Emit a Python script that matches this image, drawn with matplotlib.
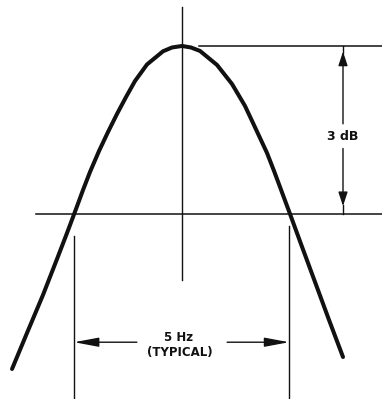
# Courbe de réponse d'un filtre : bande passante à -3 dB
import matplotlib
matplotlib.use('Agg')
import matplotlib.pyplot as plt

plt.rcParams['font.family'] = ['DejaVu Sans']

# Données (écart de fréquence en Hz, niveau en dB)
freq_hz = [-3.953, -3.605, -3.233, -2.907, -2.674, -2.465, -2.302, -2.140, -1.930,
           -1.721, -1.512, -1.302, -1.093, -0.814, -0.442, -0.233, 0.000, 0.209,
           0.419, 0.814, 1.163, 1.465, 1.651, 1.814, 1.977, 2.140, 2.279, 2.512,
           2.767, 3.093, 3.419, 3.744]
niveau_db = [-5.768, -5.125, -4.446, -3.804, -3.339, -2.911, -2.571, -2.250, -1.875,
             -1.536, -1.214, -0.911, -0.625, -0.330, -0.095, -0.027, 0.000, -0.027,
             -0.089, -0.339, -0.679, -1.071, -1.375, -1.643, -1.911, -2.232, -2.518,
             -3.000, -3.536, -4.214, -4.893, -5.554]

pic_db = 0.0           # niveau du sommet
coupure_db = -3.0      # niveau de coupure
bande = [-2.51, 2.49]  # bords de la bande passante (5 Hz)
texte_db = '3 dB'
texte_hz = '5 Hz'
texte_typ = '(TYPICAL)'

noir = '#111111'

fig = plt.figure(figsize=(3.82, 3.99), dpi=100)
ax = fig.add_axes([0, 0, 1, 1])
ax.set_xlim(-4.233, 4.651)
ax.set_ylim(-6.304, 0.821)
ax.axis('off')

# Courbe principale (trait épais)
ax.plot(freq_hz, niveau_db, color=noir, linewidth=2.9,
        solid_joinstyle='round', solid_capstyle='round')

# Axe vertical central
ax.plot([0, 0], [0.696, -4.18], color=noir, linewidth=1.0)

# Lignes de référence : sommet et -3 dB
ax.plot([0.395, 4.651], [pic_db, pic_db], color=noir, linewidth=1.1)
ax.plot([-3.395, 4.651], [coupure_db, coupure_db], color=noir, linewidth=1.1)

# Cote verticale "3 dB"
x_cote = 3.744
style_v = dict(arrowstyle='-|>,head_length=8.5,head_width=2.8', mutation_scale=1,
               color=noir, lw=1.0, shrinkA=0, shrinkB=0)
ax.annotate('', xy=(x_cote, pic_db - 0.1), xytext=(x_cote, -1.39), arrowprops=style_v)
ax.plot([x_cote, x_cote], [pic_db, pic_db - 0.12], color=noir, linewidth=1.0)
ax.annotate('', xy=(x_cote, coupure_db + 0.14), xytext=(x_cote, -1.83), arrowprops=style_v)
ax.plot([x_cote, x_cote], [coupure_db, coupure_db + 0.16], color=noir, linewidth=1.0)
ax.text(x_cote, -1.61, texte_db, ha='center', va='center', fontsize=9,
        fontweight='bold', color=noir)

# Lignes d'attache de la cote horizontale
ax.plot([bande[0], bande[0]], [-3.39, -6.304], color=noir, linewidth=1.0)
ax.plot([bande[1], bande[1]], [-3.21, -6.304], color=noir, linewidth=1.0)

# Cote horizontale "5 Hz"
y_cote = -5.29
style_h = dict(arrowstyle='-|>,head_length=15,head_width=2.8', mutation_scale=1,
               color=noir, lw=1.0, shrinkA=0, shrinkB=0)
ax.annotate('', xy=(bande[0], y_cote), xytext=(-1.05, y_cote), arrowprops=style_h)
ax.annotate('', xy=(bande[1], y_cote), xytext=(1.05, y_cote), arrowprops=style_h)
ax.text(-0.09, -5.20, texte_hz, ha='center', va='center', fontsize=8.5,
        fontweight='bold', color=noir)
ax.text(-0.05, -5.48, texte_typ, ha='center', va='center', fontsize=8.5,
        fontweight='bold', color=noir)

fig.savefig('out.png', dpi=100)
